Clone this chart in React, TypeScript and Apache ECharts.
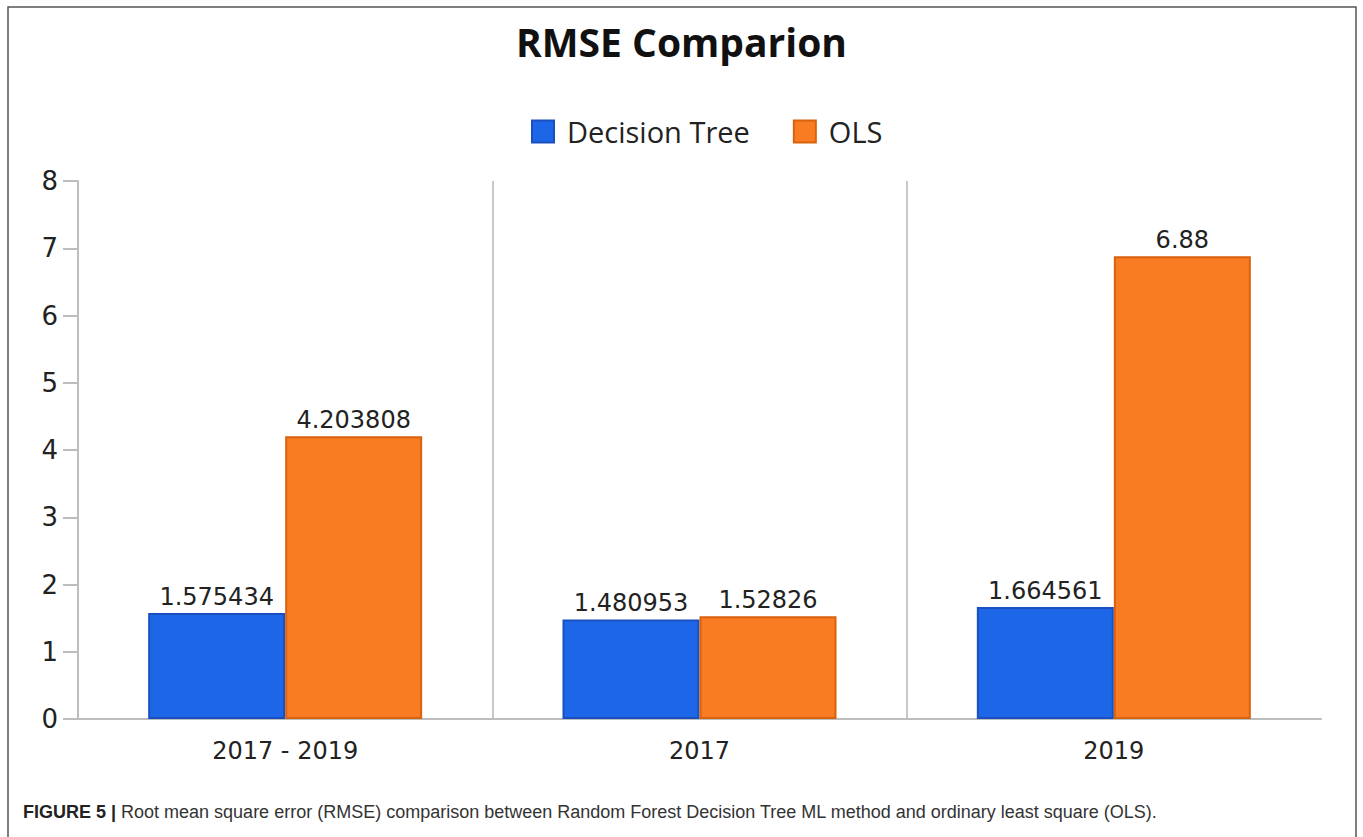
import React, { useEffect, useRef } from "react";
import * as echarts from "echarts";

const categories = ["2017 - 2019", "2017", "2019"];
const decisionTree = [1.575434, 1.480953, 1.664561];
const ols = [4.203808, 1.52826, 6.88];
const yTicks = [0, 1, 2, 3, 4, 5, 6, 7, 8];
const titleText = "RMSE Comparion";
const captionBold = "FIGURE 5 |";
const captionText =
  " Root mean square error (RMSE) comparison between Random Forest Decision Tree ML method and ordinary least square (OLS).";

export default function App() {
  const ref = useRef<HTMLDivElement>(null);
  useEffect(() => {
    document.body.style.margin = "0";
    const chart = echarts.init(ref.current!, null, { renderer: "svg" });
    chart.setOption({
      animation: false,
      backgroundColor: "#ffffff",
      title: {
        text: titleText,
        left: "center",
        top: 17,
        textStyle: {
          fontFamily: "Open Sans",
          fontWeight: "bold",
          fontSize: 39,
          color: "#111",
        },
      },
      legend: {
        top: 112,
        left: 526,
        itemWidth: 22,
        itemHeight: 22,
        itemGap: 43,
        icon: "rect",
        textStyle: {
          fontFamily: "Open Sans",
          fontSize: 29,
          color: "#222",
          padding: [0, 0, 0, 8],
        },
        data: ["Decision Tree", "OLS"],
      },
      grid: { left: 78, right: 42, top: 181, bottom: 118 },
      xAxis: {
        type: "category",
        data: categories,
        axisLine: { show: true, lineStyle: { color: "#bdbdbd", width: 2 } },
        axisTick: { show: false },
        splitLine: {
          show: true,
          lineStyle: {
            color: ["#c8c8c8", "#c8c8c8", "#c8c8c8", "rgba(0,0,0,0)"],
            width: 2,
          },
        },
        axisLabel: {
          margin: 20,
          fontFamily: "DejaVu Sans",
          fontSize: 24,
          color: "#222",
        },
      },
      yAxis: {
        type: "value",
        min: yTicks[0],
        max: yTicks[yTicks.length - 1],
        interval: 1,
        axisLine: { show: true, lineStyle: { color: "#bdbdbd", width: 2 } },
        axisTick: { show: true, length: 15, lineStyle: { color: "#bdbdbd", width: 2 } },
        splitLine: { show: false },
        axisLabel: {
          margin: 20,
          fontFamily: "DejaVu Sans",
          fontSize: 26,
          color: "#222",
        },
      },
      series: [
        {
          name: "Decision Tree",
          type: "bar",
          data: decisionTree,
          barWidth: 137,
          barGap: "0%",
          itemStyle: { color: "#1e66e8", borderColor: "#1a4fbf", borderWidth: 2 },
          label: {
            show: true,
            position: "top",
            distance: 4,
            fontFamily: "DejaVu Sans",
            fontSize: 24,
            color: "#222",
          },
        },
        {
          name: "OLS",
          type: "bar",
          data: ols,
          barWidth: 137,
          barGap: "0%",
          itemStyle: { color: "#f97c23", borderColor: "#d8620e", borderWidth: 2 },
          label: {
            show: true,
            position: "top",
            distance: 4,
            fontFamily: "DejaVu Sans",
            fontSize: 24,
            color: "#222",
          },
        },
      ],
      graphic: [
        {
          type: "rect",
          shape: { x: 8, y: 7, width: 1348, height: 850 },
          style: { fill: "none", stroke: "#555", lineWidth: 1.5 },
          silent: true,
          z: 100,
        },
        {
          type: "text",
          x: 23,
          y: 812,
          style: {
            text: "{b|" + captionBold + "}{n|" + captionText + "}",
            verticalAlign: "middle",
            rich: {
              b: {
                fontFamily: "Liberation Sans",
                fontWeight: "bold",
                fontSize: 18,
                fill: "#222",
              },
              n: {
                fontFamily: "Liberation Sans",
                fontSize: 18,
                fill: "#333",
              },
            },
          },
        },
      ],
    });
    return () => chart.dispose();
  }, []);
  return <div ref={ref} style={{ width: 1363, height: 837 }} />;
}
